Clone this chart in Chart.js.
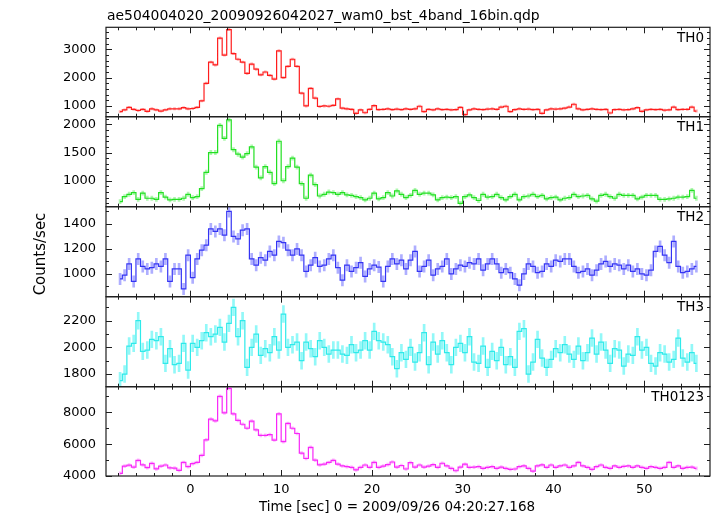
<!DOCTYPE html>
<html>
<head>
<meta charset="utf-8">
<script src="https://cdn.jsdelivr.net/npm/chart.js@4.4.1/dist/chart.umd.min.js"></script>
<style>
  html, body { margin: 0; padding: 0; background: #fff; }
  #wrap { position: relative; width: 717px; height: 516px; }
  #wrap canvas { position: absolute; left: 0; top: 0; }
</style>
</head>
<body>
<div id="wrap">
  <canvas id="p0" width="717" height="516"></canvas>
  <canvas id="p1" width="717" height="516"></canvas>
  <canvas id="p2" width="717" height="516"></canvas>
  <canvas id="p3" width="717" height="516"></canvas>
  <canvas id="p4" width="717" height="516"></canvas>
</div>
<script>
// WAM light curves, 0.5 s bins starting at t = -7.75 s (bin centres)
const BIN_SEC = 0.5;
const FIRST_BIN = -7.75;

const TH0 = [
  800, 860, 950, 880, 840, 880, 810, 900, 860, 820, 860, 900, 900, 900, 940, 900,
  910, 950, 1180, 1800, 2550, 2450, 3400, 2800, 3700, 2850, 2650, 2550, 2150, 2480, 2300, 2100,
  2200, 2080, 1950, 2950, 2000, 2400, 2650, 2400, 1450, 1000, 1620, 1280, 980, 1000, 990, 1020,
  1250, 920, 900, 880, 740, 860, 760, 880, 1010, 870, 880, 900, 870, 890, 870, 900,
  880, 900, 990, 800, 880, 860, 900, 870, 880, 860, 870, 950, 690, 860, 900, 880,
  870, 890, 900, 880, 960, 990, 800, 870, 900, 880, 890, 870, 880, 740, 860, 900,
  890, 900, 920, 960, 1060, 900, 860, 880, 900, 880, 870, 880, 750, 870, 880, 860,
  870, 900, 940, 810, 860, 880, 870, 880, 850, 860, 960, 870, 880, 880, 960, 820
];
const TH1 = [
  630, 720, 760, 790, 670, 780, 690, 690, 670, 790, 710, 660, 670, 670, 690, 760,
  700, 720, 860, 1150, 1500, 1500, 1980, 1750, 2080, 1550, 1470, 1420, 1480, 1600, 1240, 1050,
  1250, 1150, 950, 1700, 1000, 1250, 1400, 1240, 950, 690, 1100, 930, 730, 760, 800, 790,
  760, 790, 750, 740, 720, 700, 660, 690, 780, 680, 700, 790, 730, 820, 760, 700,
  740, 830, 760, 780, 780, 750, 660, 700, 710, 700, 720, 600, 720, 750, 700, 650,
  760, 710, 720, 760, 700, 660, 720, 760, 660, 720, 730, 760, 720, 740, 680, 700,
  710, 660, 690, 700, 760, 720, 730, 740, 680, 640, 740, 760, 720, 690, 760, 740,
  740, 740, 680, 710, 740, 740, 740, 670, 670, 680, 690, 710, 710, 720, 830, 690
];
const TH2 = [
  960, 990, 1080, 940, 1120, 1060, 1040, 1050, 1080, 1060, 1120, 940, 1040, 1040, 880, 1150,
  970, 1120, 1190, 1230, 1360, 1340, 1360, 1310, 1500, 1300, 1280, 1350, 1360, 1120, 1070, 1130,
  1110, 1180, 1150, 1260, 1250, 1190, 1150, 1200, 1150, 1020, 1070, 1130, 1060, 1070, 1120, 1150,
  1050, 950, 1070, 1020, 1050, 1090, 980, 1040, 1070, 1055, 940, 1060, 1120, 1080, 1110, 1040,
  1110, 1180, 1020, 1060, 1110, 990, 1040, 1060, 1120, 1000, 1040, 1070, 1060, 1090, 1080, 1120,
  1030, 1080, 1120, 1080, 1010, 1040, 1010, 960, 910, 1000, 1080, 1060, 1010, 1020, 1080, 1060,
  1110, 1100, 1120, 1120, 1060, 1010, 1020, 1040, 990, 1030, 1080, 1100, 1060, 1080, 1070, 1040,
  1070, 1020, 1040, 1000, 990, 1030, 1180, 1220, 1150, 1090, 1260, 1060, 1010, 1020, 1040, 1060
];
const TH3 = [
  1750, 1800, 2010, 2030, 2200, 1970, 1980, 2060, 2050, 2080, 1880, 1990, 1870, 1880, 2030, 1830,
  2030, 2000, 2050, 2110, 2080, 2100, 2150, 2040, 2180, 2300, 2080, 2200, 1850, 2000, 2100, 1940,
  1990, 1960, 2080, 1980, 2250, 2000, 2020, 2040, 1900, 2040, 1990, 1930, 2050, 2000, 1950, 1980,
  1980, 1950, 1940, 2020, 1960, 1980, 2050, 1980, 2120, 2050, 2040, 2020, 1930, 1840, 1960, 1910,
  2000, 1890, 1960, 2110, 1870, 2040, 1950, 2050, 1960, 1870, 2000, 2030, 1960, 2080, 1890, 1880,
  2010, 1850, 1970, 1900, 2000, 1870, 1930, 1850, 2120, 2140, 1800, 1890, 2060, 1920, 1850, 1910,
  1990, 1960, 2020, 1950, 1910, 2010, 1900, 1960, 2070, 1950, 2040, 1980, 1880, 1990, 1980, 1860,
  1950, 1940, 2080, 1980, 2000, 1880, 1860, 1960, 1950, 1890, 1910, 2070, 1920, 1890, 1960, 1880
];
const TH0123 = [
  4170, 4620, 4680, 4560, 4980, 4700, 4530, 4790, 4450, 4620, 4690, 4510, 4500, 4350, 4850, 4590,
  4780, 4850, 5300, 6270, 7570, 7460, 9000, 7960, 9500, 7900, 7500, 7250, 7000, 7450, 6900, 6550,
  6550, 6600, 6260, 7900, 6160, 7300, 7000, 6670, 5440, 5100, 5800, 5000, 4700, 4750, 4850, 4980,
  4750, 4630, 4590, 4540, 4380, 4540, 4690, 4540, 4860, 4540, 4620, 4720, 4880, 4560, 4660, 4440,
  4840, 4560, 4690, 4560, 4620, 4720, 4540, 4800, 4630, 4480, 4330, 4560, 4740, 4540, 4560, 4590,
  4480, 4540, 4590, 4480, 4560, 4480, 4420, 4440, 4590, 4640, 4480, 4300, 4640, 4700, 4540, 4690,
  4540, 4630, 4690, 4540, 4630, 4850, 4630, 4540, 4420, 4590, 4690, 4540, 4480, 4630, 4540, 4600,
  4630, 4540, 4630, 4540, 4480, 4590, 4540, 4480, 4540, 4850, 4540, 4630, 4480, 4540, 4560, 4480
];

// typical 1-sigma error per panel (counts/sec)
const ERRORS = [40, 37, 45, 63, 95];

const NAMES = ['TH0', 'TH1', 'TH2', 'TH3', 'TH0123'];
const Y_LABELS = [[1000, 2000, 3000], [1000, 1500, 2000], [1000, 1200, 1400], [1800, 2000, 2200], [4000, 6000, 8000]];
const Y_MINOR = [200, 100, 100, 100, 1000];
const Y_RANGE = [[620, 3780], [540, 2135], [818, 1538], [1705, 2380], [4000, 9610]];
const X_LABELS = [0, 10, 20, 30, 40, 50];
const X_MINOR = 2;
const X_RANGE = [-9.3, 57.25];

const TITLE = 'ae504004020_20090926042027_wam0_bst_4band_16bin.qdp';
const X_TITLE = 'Time [sec] 0 = 2009/09/26 04:20:27.168';
const Y_TITLE = 'Counts/sec';

// layout (pixels)
const PANEL_TOPS = [27.3, 116.7, 206.7, 296.7, 386.7];
const PLOT_BOTTOM = 476;
const PLOT_LEFT = 106;
const PLOT_RIGHT = 710;
const CANVAS_H = 516;
const X_AXIS_H = 40;

const LINE_COLORS = ['#ff1c1c', '#22e022', '#3434f4', '#2eeaea', '#f826f8'];
const BAR_COLORS = ['rgba(255,110,110,0.55)', 'rgba(110,240,110,0.55)', 'rgba(120,120,255,0.6)',
  'rgba(100,245,245,0.7)', 'rgba(255,130,255,0.55)'];

Chart.defaults.font.family = '"DejaVu Sans", sans-serif';
Chart.defaults.font.size = 13;
Chart.defaults.color = '#000';

const SERIES = [TH0, TH1, TH2, TH3, TH0123];
const TIMES = TH0.map((_, i) => FIRST_BIN + i * BIN_SEC);

// frame with inward ticks on every side + panel texts
const qdpFrame = {
  id: 'qdpFrame',
  afterDatasetsDraw(chart, args, opts) {
    const { ctx, chartArea: a, scales: { x, y } } = chart;
    ctx.save();
    ctx.strokeStyle = '#1e1e1e';
    ctx.lineWidth = 1.2;
    ctx.strokeRect(a.left, a.top, a.right - a.left, a.bottom - a.top);

    ctx.beginPath();
    for (let t = Math.ceil(x.min / X_MINOR) * X_MINOR; t <= x.max; t += X_MINOR) {
      const px = Math.round(x.getPixelForValue(t)) + 0.5;
      const len = X_LABELS.includes(t) ? 6 : 3;
      ctx.moveTo(px, a.top); ctx.lineTo(px, a.top + len);
      ctx.moveTo(px, a.bottom); ctx.lineTo(px, a.bottom - len);
    }
    for (let v = Math.ceil(y.min / opts.minor) * opts.minor; v <= y.max; v += opts.minor) {
      const py = Math.round(y.getPixelForValue(v)) + 0.5;
      const len = opts.labels.includes(v) ? 6 : 3;
      ctx.moveTo(a.left, py); ctx.lineTo(a.left + len, py);
      ctx.moveTo(a.right, py); ctx.lineTo(a.right - len, py);
    }
    ctx.lineWidth = 1;
    ctx.stroke();

    ctx.fillStyle = '#000';
    ctx.font = '13.5px "DejaVu Sans"';
    ctx.textAlign = 'right';
    ctx.textBaseline = 'middle';
    ctx.fillText(opts.name, a.right - 6, a.top + 11);

    if (opts.title) {
      ctx.textAlign = 'left';
      ctx.font = '13.9px "DejaVu Sans"';
      ctx.fillText(opts.title, 107, 16);
    }
    if (opts.xTitle) {
      ctx.textAlign = 'center';
      ctx.fillText(opts.xTitle, 397, 507);
      ctx.save();
      ctx.translate(41, 254);
      ctx.rotate(-Math.PI / 2);
      ctx.font = '15px "DejaVu Sans"';
      ctx.fillText(Y_TITLE, 0, 0);
      ctx.restore();
    }
    ctx.restore();
  }
};

SERIES.forEach((vals, k) => {
  const last = k === SERIES.length - 1;
  const top = PANEL_TOPS[k];
  const bottom = last ? PLOT_BOTTOM : PANEL_TOPS[k + 1];
  const err = ERRORS[k];

  new Chart(document.getElementById('p' + k), {
    type: 'line',
    data: {
      datasets: [
        {
          type: 'line',
          data: vals.map((v, i) => ({ x: TIMES[i], y: v })),
          borderColor: LINE_COLORS[k],
          borderWidth: 1.2,
          pointRadius: 0,
          stepped: 'middle',
          order: 0,
        },
        {
          type: 'bar',
          data: vals.map((v, i) => ({ x: TIMES[i], y: [v - err, v + err] })),
          backgroundColor: BAR_COLORS[k],
          barThickness: 2,
          order: 1,
        },
      ],
    },
    options: {
      responsive: false,
      animation: false,
      events: [],
      layout: {
        padding: {
          left: 0,
          right: 717 - PLOT_RIGHT,
          top: top,
          bottom: last ? CANVAS_H - PLOT_BOTTOM - X_AXIS_H : CANVAS_H - bottom,
        },
      },
      plugins: {
        legend: { display: false },
        tooltip: { enabled: false },
        qdpFrame: {
          name: NAMES[k],
          labels: Y_LABELS[k],
          minor: Y_MINOR[k],
          title: k === 0 ? TITLE : null,
          xTitle: last ? X_TITLE : null,
        },
      },
      scales: {
        x: {
          type: 'linear',
          display: last,
          min: X_RANGE[0],
          max: X_RANGE[1],
          offset: false,
          afterBuildTicks: (s) => { s.ticks = X_LABELS.map((v) => ({ value: v })); },
          afterFit: (s) => { s.height = last ? X_AXIS_H : 0; },
          grid: { display: false, drawTicks: false },
          border: { display: false },
          ticks: { padding: 6, maxRotation: 0, autoSkip: false, callback: (v) => String(v) },
        },
        y: {
          type: 'linear',
          min: Y_RANGE[k][0],
          max: Y_RANGE[k][1],
          afterBuildTicks: (s) => { s.ticks = Y_LABELS[k].map((v) => ({ value: v })); },
          afterFit: (s) => { s.width = PLOT_LEFT; },
          grid: { display: false, drawTicks: false },
          border: { display: false },
          ticks: { padding: 10, callback: (v) => String(v) },
        },
      },
    },
    plugins: [qdpFrame],
  });
});
</script>
</body>
</html>
